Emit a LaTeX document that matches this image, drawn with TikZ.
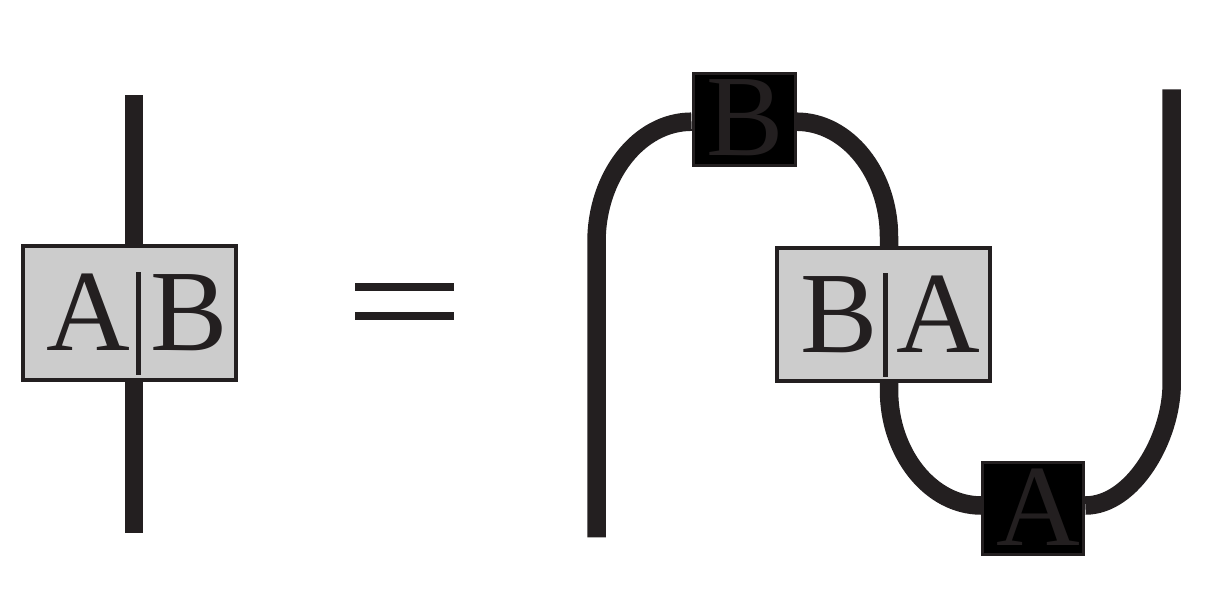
\documentclass[tikz,border=0pt]{standalone}
\usepackage{fontspec}
\setmainfont{Liberation Serif}
\usetikzlibrary{backgrounds}
\definecolor{ink}{HTML}{231F20}
\definecolor{boxgray}{HTML}{CCCCCC}
\begin{document}
\begin{tikzpicture}[x=1pt,y=-1pt,
  wire/.style={draw=ink,line width=18.5pt},
  graybox/.style={draw=ink,fill=boxgray,line width=4pt,inner sep=0pt,minimum width=212.7pt,minimum height=133.4pt},
  blackbox/.style={draw=ink,fill=black,line width=3pt,inner sep=0pt,minimum width=102pt,minimum height=92.5pt},
  letter/.style={inner sep=0pt,anchor=base west,font=\fontsize{116}{120}\selectfont,text=ink},
  divider/.style={draw=ink,line width=5pt},
  eqbar/.style={draw=ink,line width=7.5pt}]
\useasboundingbox (0,0) rectangle (1214,614);
% left side
\node[graybox] (AB) at (129.65,313) {};
\node[letter] (ABa) at (46,350.7) {A};
\node[letter] (ABb) at (149.8,350.7) {B};
\coordinate (abd1) at (138.5,272);
\coordinate (abd2) at (138.5,375);
\draw[divider] (abd1) -- (abd2);
\coordinate (lt) at (134,95);
\coordinate (lb) at (134,532.7);
% equals
\coordinate (e1a) at (355,287); \coordinate (e1b) at (454.3,287);
\coordinate (e2a) at (355,316.2); \coordinate (e2b) at (454.3,316.2);
\draw[eqbar] (e1a) -- (e1b);
\draw[eqbar] (e2a) -- (e2b);
% right side
\node[blackbox] (Bk) at (744,119.7) {};
\node[letter] (Bkl) at (706.1,155.7) {B};
\node[graybox,minimum width=213pt,minimum height=133.3pt] (BA) at (883.2,314.65) {};
\node[letter] (BAb) at (799.8,352.7) {B};
\node[letter] (BAa) at (896.6,352.7) {A};
\coordinate (bad1) at (885.8,273.3);
\coordinate (bad2) at (885.8,376.7);
\draw[divider] (bad1) -- (bad2);
\node[blackbox,minimum width=101pt,minimum height=92pt] (Ak) at (1033.3,508.5) {};
\node[letter] (Akl) at (996,545) {A};
\coordinate (r1b) at (596.5,537.3);
\coordinate (r1t) at (596.5,242);
\coordinate (w2e) at (889,237);
\coordinate (w2in) at (889,250);
\coordinate (w3in) at (889,378);
\coordinate (w3s) at (889,390);
\coordinate (r4b) at (1171.7,383.3);
\coordinate (r4t) at (1171.7,89.3);
\begin{scope}[on background layer]
  \draw[wire] (lt) -- (lt |- AB.north);
  \draw[wire] (lb |- AB.south) -- (lb);
  \draw[wire] (r1b) -- (r1t) .. controls (596.5,176) and (639,121.7) .. ([yshift=-2pt]Bk.west);
  \draw[wire] ([yshift=-2pt]Bk.east) .. controls (847.5,121.7) and (889,173.6) .. (w2e) -- (w2in);
  \draw[wire] (w3in) -- (w3s) .. controls (889,453.5) and (930.5,505.5) .. ([yshift=3pt]Ak.west);
  \draw[wire] ([yshift=3pt]Ak.east) .. controls (1132.8,505.5) and (1171.7,438.3) .. (r4b) -- (r4t);
\end{scope}
\end{tikzpicture}
\end{document}
